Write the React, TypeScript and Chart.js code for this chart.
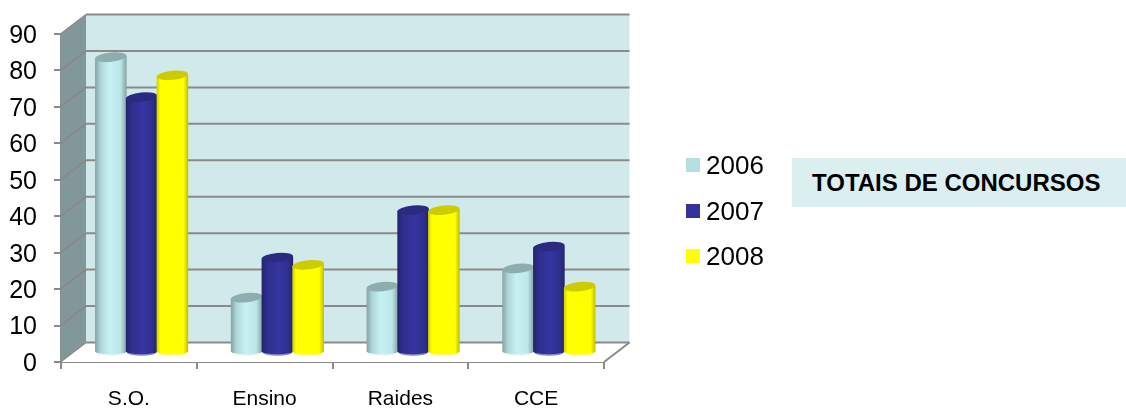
import React, { useEffect, useRef } from "react";
import { Chart, registerables } from "chart.js";

Chart.register(...registerables);

const categories = ["S.O.", "Ensino", "Raides", "CCE"];
const seriesNames = ["2006", "2007", "2008"];
const values2006 = [81, 15, 18, 23];
const values2007 = [70, 26, 39, 29];
const values2008 = [76, 24, 39, 18];
const seriesValues = [values2006, values2007, values2008];
const legendColors = ["#B7DEE1", "#333399", "#FFFF00"];
const titleText = "TOTAIS DE CONCURSOS";

const FONT = "'Liberation Sans', Arial, sans-serif";
const GRID = "#8A8A8A";
const DX = 25.5;
const DY = -19.5;

const cylinderStyles = [
  {
    stops: [[0, "#86A2A5"], [0.18, "#AFD6D9"], [0.45, "#C6F1F3"], [0.8, "#BDE6E9"], [1, "#86A2A5"]],
    top: "#8FACAF",
    foot: "#E4F5F6",
  },
  {
    stops: [[0, "#23236E"], [0.2, "#2F2F8E"], [0.55, "#3535A0"], [0.85, "#2F2F8E"], [1, "#23236E"]],
    top: "#2A2A80",
    foot: "#8888D0",
  },
  {
    stops: [[0, "#CFCF00"], [0.12, "#FFFF00"], [0.85, "#FFFF00"], [1, "#BEBE00"]],
    top: "#CCCC00",
    foot: "#FFFF60",
  },
] as const;

const scene3d = {
  id: "scene3d",
  beforeDatasetsDraw(chart: any) {
    const { ctx, scales } = chart;
    const xs = scales.x;
    const ys = scales.y;
    const l = xs.left - 0.5;
    const r = xs.right;
    const t = ys.top;
    const b = ys.bottom;
    ctx.save();
    // side wall
    ctx.fillStyle = "#829799";
    ctx.beginPath();
    ctx.moveTo(l, t);
    ctx.lineTo(l + DX, t + DY);
    ctx.lineTo(l + DX, b + DY);
    ctx.lineTo(l, b);
    ctx.closePath();
    ctx.fill();
    // back wall
    ctx.fillStyle = "#D2E9EB";
    ctx.fillRect(l + DX, t + DY, r + DX - l - DX, b - t);
    // floor
    ctx.fillStyle = "#FFFFFF";
    ctx.beginPath();
    ctx.moveTo(l, b);
    ctx.lineTo(l + DX, b + DY);
    ctx.lineTo(r + DX, b + DY);
    ctx.lineTo(r, b);
    ctx.closePath();
    ctx.fill();
    // grid lines wrapping the walls
    for (const tick of ys.ticks) {
      const y = ys.getPixelForValue(tick.value);
      ctx.strokeStyle = tick.value === 0 || tick.value === 90 ? GRID : "#8E8484";
      ctx.lineWidth = 1.5;
      ctx.beginPath();
      ctx.moveTo(l, y);
      ctx.lineTo(l + DX, y + DY);
      ctx.stroke();
      ctx.strokeStyle = GRID;
      ctx.lineWidth = 2;
      ctx.beginPath();
      ctx.moveTo(l + DX, y + DY);
      ctx.lineTo(r + DX, y + DY);
      ctx.stroke();
    }
    // floor right edge
    ctx.strokeStyle = GRID;
    ctx.lineWidth = 2;
    ctx.beginPath();
    ctx.moveTo(r, b);
    ctx.lineTo(r + DX, b + DY);
    ctx.stroke();
    ctx.restore();
  },
  beforeDatasetDraw() {
    return false;
  },
  afterDatasetsDraw(chart: any) {
    const { ctx, scales } = chart;
    const ys = scales.y;
    const ox = DX / 2;
    const oy = DY / 2;
    const baseY = ys.getPixelForValue(0);
    seriesValues.forEach((_, ds) => {
      const meta = chart.getDatasetMeta(ds);
      const style = cylinderStyles[ds];
      meta.data.forEach((bar: any) => {
        const w = bar.width + 0.8;
        const x0 = bar.x - w / 2 + ox;
        const x1 = bar.x + w / 2 + ox;
        const cx = bar.x + ox;
        const yTop = bar.y + oy;
        const yBot = baseY + oy;
        const grad = ctx.createLinearGradient(x0, 0, x1, 0);
        style.stops.forEach(([p, c]) => grad.addColorStop(p, c));
        ctx.save();
        // foot highlight
        ctx.fillStyle = style.foot;
        ctx.beginPath();
        ctx.ellipse(cx, yBot, w / 2 - 1, 3.4, 0, 0, Math.PI * 2);
        ctx.fill();
        // body
        ctx.fillStyle = grad;
        ctx.beginPath();
        ctx.moveTo(x0, yTop + 1);
        ctx.lineTo(x0, yBot);
        ctx.ellipse(cx, yBot - 1, w / 2, 3, 0, Math.PI, 0, true);
        ctx.lineTo(x1, yTop - 1);
        ctx.closePath();
        ctx.fill();
        // top cap
        ctx.fillStyle = style.top;
        ctx.beginPath();
        ctx.ellipse(cx, yTop, w / 2, 4.6, -0.1, 0, Math.PI * 2);
        ctx.fill();
        ctx.restore();
      });
    });
  },
};

export default function App() {
  const ref = useRef<HTMLCanvasElement | null>(null);
  useEffect(() => {
    const chart = new Chart(ref.current as HTMLCanvasElement, {
      type: "bar",
      data: {
        labels: categories,
        datasets: seriesNames.map((name, i) => ({
          label: name,
          data: seriesValues[i],
          backgroundColor: legendColors[i],
          categoryPercentage: 0.68,
          barPercentage: 1,
        })),
      },
      options: {
        responsive: false,
        animation: false,
        layout: { padding: { top: 34, right: 522, left: 0, bottom: 0 } },
        plugins: { legend: { display: false }, title: { display: false }, tooltip: { enabled: false } },
        scales: {
          x: {
            afterFit: (s: any) => { s.height = 47; },
            grid: { drawOnChartArea: false, color: GRID, lineWidth: 2, tickLength: 7, offset: true },
            border: { color: GRID, width: 2 },
            ticks: { color: "#000", font: { family: FONT, size: 21 }, padding: 18, maxRotation: 0 },
          },
          y: {
            min: 0,
            max: 90,
            afterFit: (s: any) => { s.width = 61; },
            grid: { drawOnChartArea: false, color: GRID, lineWidth: 2, tickLength: 7 },
            border: { color: GRID, width: 2 },
            ticks: { stepSize: 10, color: "#000", font: { family: FONT, size: 25 }, padding: 17, labelOffset: 2 },
          },
        },
      },
      plugins: [scene3d],
    } as any);
    return () => chart.destroy();
  }, []);

  const legendTops = [158, 204, 249];
  return (
    <div style={{ position: "absolute", left: 0, top: 0, width: 1126, height: 409, background: "#fff", overflow: "hidden" }}>
      <canvas ref={ref} width={1126} height={409} style={{ display: "block" }} />
      {seriesNames.map((name, i) => (
        <div key={name}>
          <div style={{ position: "absolute", left: 686, top: legendTops[i], width: 14, height: 14, background: legendColors[i] }} />
          <div style={{ position: "absolute", left: 706, top: legendTops[i] - 8, fontFamily: FONT, fontSize: 26, lineHeight: "30px", color: "#000" }}>{name}</div>
        </div>
      ))}
      <div style={{ position: "absolute", left: 792, top: 158, width: 334, height: 49, background: "#DBEEF0" }}>
        <div style={{ position: "absolute", left: 20, top: 11, fontFamily: FONT, fontWeight: 700, fontSize: 24, lineHeight: "28px", color: "#000", whiteSpace: "nowrap" }}>{titleText}</div>
      </div>
    </div>
  );
}
